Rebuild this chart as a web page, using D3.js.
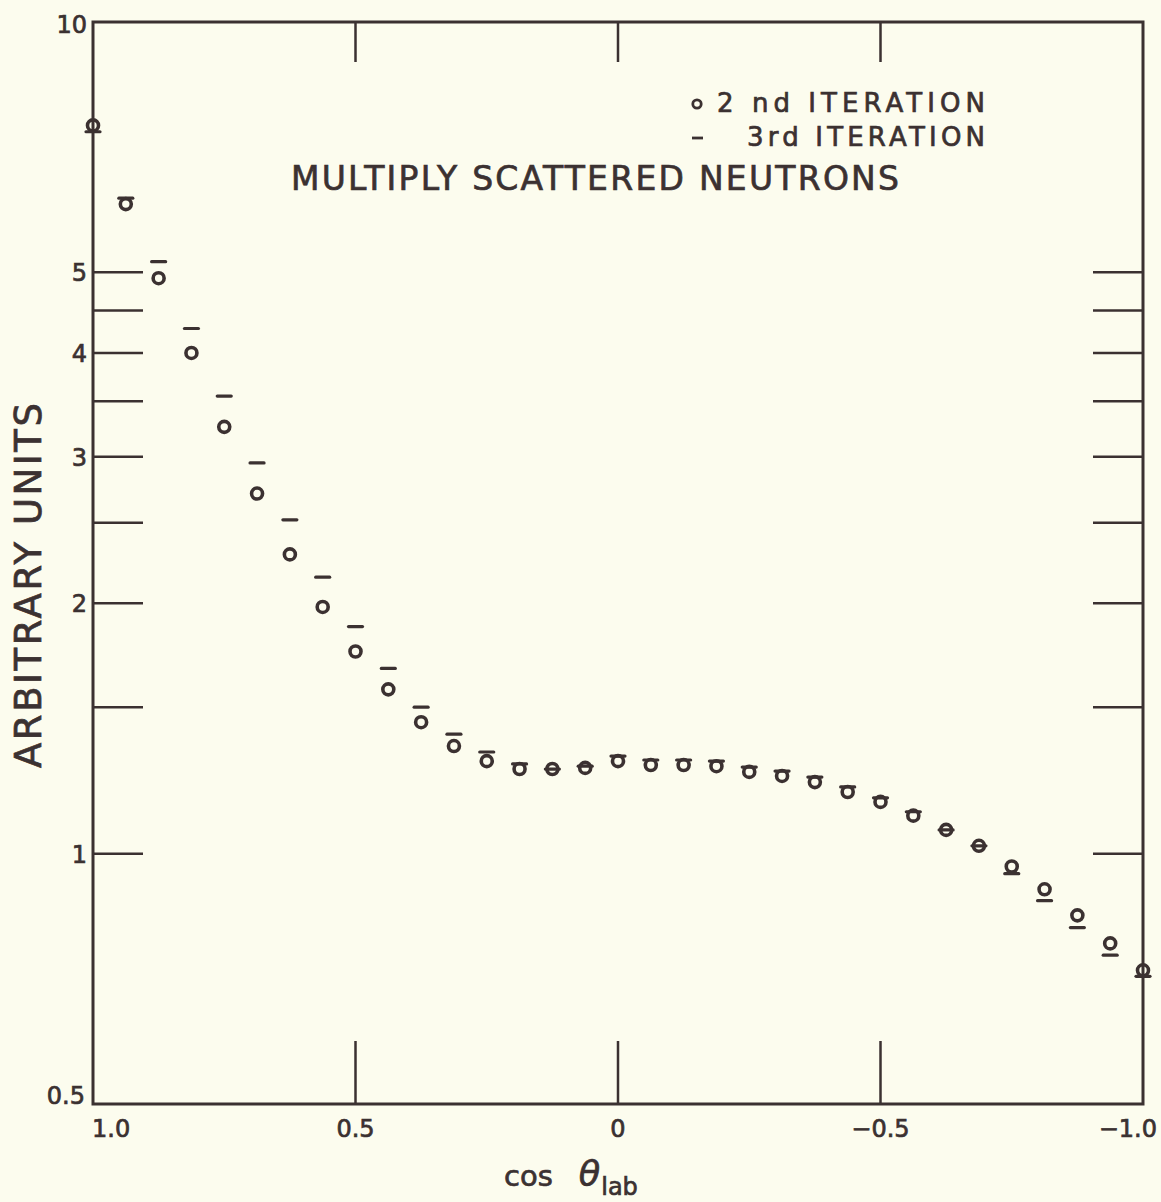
<!DOCTYPE html>
<html>
<head>
<meta charset="utf-8">
<script src="https://cdn.jsdelivr.net/npm/d3@7"></script>
<style>
  body { margin: 0; background: #fcfcee; }
  svg { display: block; }
</style>
</head>
<body>
<div id="chart"></div>
<script>
/* Multiply scattered neutrons, 2nd vs 3rd iteration */

// cos(theta_lab) positions of the points
const cosTheta = [1.0, 0.9375, 0.875, 0.8125, 0.75, 0.6875, 0.625, 0.5625, 0.5, 0.4375, 0.375,
    0.3125, 0.25, 0.1875, 0.125, 0.0625, 0, -0.0625, -0.125, -0.1875, -0.25, -0.3125,
    -0.375, -0.4375, -0.5, -0.5625, -0.625, -0.6875, -0.75, -0.8125, -0.875, -0.9375, -1.0];

// 2nd iteration (circles)
const second = [7.51, 6.04, 4.92, 4.00, 3.26, 2.71, 2.29, 1.98, 1.75, 1.576, 1.439,
    1.347, 1.292, 1.264, 1.264, 1.268, 1.292, 1.278, 1.278, 1.274, 1.254, 1.240,
    1.219, 1.186, 1.154, 1.111, 1.068, 1.022, 0.965, 0.906, 0.843, 0.780, 0.724];

// 3rd iteration (dashes)
const third = [7.38, 6.14, 5.15, 4.28, 3.55, 2.95, 2.52, 2.15, 1.875, 1.67, 1.50,
    1.392, 1.325, 1.282, 1.264, 1.274, 1.31, 1.296, 1.296, 1.292, 1.271, 1.257,
    1.236, 1.203, 1.167, 1.123, 1.068, 1.022, 0.946, 0.878, 0.815, 0.755, 0.712];

// ticks
const yTicks = [1, 1.5, 2, 2.5, 3, 3.5, 4, 4.5, 5];
const yLabels = [0.5, 1, 2, 3, 4, 5, 10];
const xTicks = [0.5, 0, -0.5];
const xLabels = [1.0, 0.5, 0, -0.5, -1.0];
const xLabelText = ["1.0", "0.5", "0", "\u22120.5", "\u22121.0"];

const width = 1161,
    height = 1202,
    mLeft = 93, mRight = 1143, mTop = 22, mBottom = 1104;

const ink = "#3b3131";
const font = "DejaVu Sans";

const x = d3.scaleLinear().domain([1, -1]).range([mLeft, mRight]);
const y = d3.scaleLog().domain([0.5, 10]).range([mBottom, mTop]);

const svg = d3.select("#chart")
    .append("svg")
    .attr("width", width)
    .attr("height", height)
    .style("background", "#fcfcee");

// heavier lettering like the drafted original
function letter(sel, size) {
    return sel.attr("font-family", font)
        .attr("font-size", size)
        .attr("fill", ink)
        .attr("stroke", ink)
        .attr("stroke-width", 0.7);
}

// tick marks inside the frame
const ticks = svg.append("g")
    .attr("stroke", ink)
    .attr("stroke-width", 2.5);

ticks.selectAll(".yl")
    .data(yTicks)
    .join("line")
    .attr("class", "yl")
    .attr("x1", mLeft).attr("x2", mLeft + 50)
    .attr("y1", d => y(d)).attr("y2", d => y(d));

ticks.selectAll(".yr")
    .data(yTicks)
    .join("line")
    .attr("class", "yr")
    .attr("x1", mRight - 50).attr("x2", mRight)
    .attr("y1", d => y(d)).attr("y2", d => y(d));

ticks.selectAll(".xt")
    .data(xTicks)
    .join("line")
    .attr("class", "xt")
    .attr("x1", d => x(d)).attr("x2", d => x(d))
    .attr("y1", mTop).attr("y2", mTop + 40);

ticks.selectAll(".xb")
    .data(xTicks)
    .join("line")
    .attr("class", "xb")
    .attr("x1", d => x(d)).attr("x2", d => x(d))
    .attr("y1", mBottom - 63).attr("y2", mBottom);

// frame
svg.append("rect")
    .attr("x", mLeft).attr("y", mTop)
    .attr("width", mRight - mLeft).attr("height", mBottom - mTop)
    .attr("fill", "none")
    .attr("stroke", ink)
    .attr("stroke-width", 3);

// y tick labels
letter(svg.append("g"), 24)
    .attr("text-anchor", "end")
    .selectAll("text")
    .data(yLabels)
    .join("text")
    .attr("x", d => d === 0.5 ? mLeft - 8 : mLeft - 6)
    .attr("y", d => d === 10 ? y(d) + 11 : (d === 0.5 ? y(d) : y(d) + 9))
    .text(d => d);

// x tick labels
letter(svg.append("g"), 24)
    .selectAll("text")
    .data(xLabels)
    .join("text")
    .attr("x", (d, i) => i === 0 ? x(d) - 1 : (i === xLabels.length - 1 ? x(d) + 14 : x(d)))
    .attr("y", mBottom + 33)
    .attr("text-anchor", (d, i) => i === 0 ? "start" : (i === xLabels.length - 1 ? "end" : "middle"))
    .text((d, i) => xLabelText[i]);

// data: circles for 2nd iteration
const pts = cosTheta.map((c, i) => ({ c: c, a: second[i], b: third[i] }));

svg.append("g")
    .attr("fill", "none")
    .attr("stroke", ink)
    .attr("stroke-width", 3.6)
    .selectAll("circle")
    .data(pts)
    .join("circle")
    .attr("cx", d => x(d.c))
    .attr("cy", d => y(d.a))
    .attr("r", 5.5);

// dashes for 3rd iteration
svg.append("g")
    .attr("stroke", ink)
    .attr("stroke-width", 3.2)
    .attr("stroke-linecap", "round")
    .selectAll("line")
    .data(pts)
    .join("line")
    .attr("x1", d => x(d.c) - 7)
    .attr("x2", d => x(d.c) + 7)
    .attr("y1", d => y(d.b))
    .attr("y2", d => y(d.b));

// title and legend
letter(svg.append("text"), 33)
    .attr("x", 291).attr("y", 190)
    .attr("textLength", 608)
    .attr("lengthAdjust", "spacing")
    .text("MULTIPLY SCATTERED NEUTRONS");

svg.append("circle")
    .attr("cx", 697).attr("cy", 104)
    .attr("r", 4.2)
    .attr("fill", "none")
    .attr("stroke", ink)
    .attr("stroke-width", 2.8);

svg.append("line")
    .attr("x1", 692).attr("x2", 703)
    .attr("y1", 138).attr("y2", 138)
    .attr("stroke", ink)
    .attr("stroke-width", 2.8);

const leg = letter(svg.append("g"), 26);

leg.append("text").attr("x", 717).attr("y", 112)
    .attr("textLength", 268).attr("lengthAdjust", "spacing")
    .text("2 nd ITERATION");

leg.append("text").attr("x", 747).attr("y", 146)
    .attr("textLength", 238).attr("lengthAdjust", "spacing")
    .text("3rd ITERATION");

// axis titles
letter(svg.append("text"), 37)
    .attr("transform", "translate(41,768) rotate(-90)")
    .attr("textLength", 365)
    .attr("lengthAdjust", "spacing")
    .text("ARBITRARY UNITS");

const xt = letter(svg.append("text"), 28)
    .attr("x", 504).attr("y", 1186);

xt.append("tspan").attr("font-size", 29).text("cos");
xt.append("tspan").attr("dx", 26).attr("font-size", 35).attr("font-style", "italic").text("\u03b8");
xt.append("tspan").attr("dx", 1).attr("dy", 9).attr("font-size", 24).text("lab");
</script>
</body>
</html>
